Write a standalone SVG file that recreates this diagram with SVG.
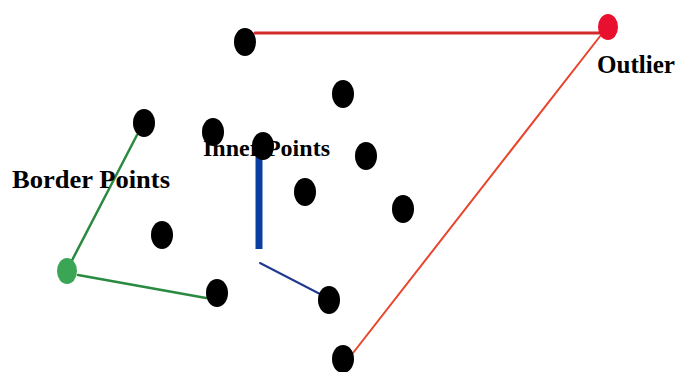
<svg xmlns="http://www.w3.org/2000/svg" width="680" height="372" viewBox="0 0 680 372">
<style>
.pt{fill:#000}
.lbl{font-family:"Liberation Serif","Times New Roman",serif;font-weight:bold;fill:#000}
.ln{fill:none;stroke-linecap:round}
</style>
<rect width="680" height="372" fill="#fff"/>
<g id="connectors">
<line class="ln" x1="255" y1="33" x2="600" y2="33" stroke="#d42a2a" stroke-width="3"/>
<line class="ln" x1="601" y1="35" x2="353" y2="353" stroke="#e8452c" stroke-width="2"/>
<line class="ln" x1="137" y1="135" x2="67" y2="270" stroke="#2a8a40" stroke-width="2.5"/>
<line class="ln" x1="78" y1="275" x2="206" y2="298" stroke="#2a8a40" stroke-width="2.5"/>
<line x1="259" y1="156" x2="259" y2="249" stroke="#0a3fa0" stroke-width="7"/>
<line class="ln" x1="260" y1="263" x2="320" y2="294" stroke="#1f3a8f" stroke-width="2"/>
</g>
<g id="p1"><ellipse class="pt" cx="245" cy="42" rx="11" ry="14"/></g>
<g id="outlier"><ellipse cx="608" cy="27" rx="10" ry="13" fill="#e8102e"/></g>
<g id="p3"><ellipse class="pt" cx="343" cy="94" rx="11" ry="14"/></g>
<g id="p4"><ellipse class="pt" cx="144" cy="123" rx="11" ry="14"/></g>
<g id="p5"><ellipse class="pt" cx="213" cy="132" rx="11" ry="14"/></g>
<g id="p6"><ellipse class="pt" cx="263" cy="146" rx="11" ry="14"/></g>
<g id="p7"><ellipse class="pt" cx="366" cy="156" rx="11" ry="14"/></g>
<g id="p8"><ellipse class="pt" cx="305" cy="192" rx="11" ry="14"/></g>
<g id="p9"><ellipse class="pt" cx="403" cy="209" rx="11" ry="14"/></g>
<g id="p10"><ellipse class="pt" cx="162" cy="235" rx="11" ry="14"/></g>
<g id="border"><ellipse cx="67" cy="271" rx="10" ry="13" fill="#3aa655"/></g>
<g id="p12"><ellipse class="pt" cx="217" cy="293" rx="11" ry="14"/></g>
<g id="p13"><ellipse class="pt" cx="329" cy="300" rx="11" ry="14"/></g>
<g id="p14"><ellipse class="pt" cx="343" cy="359" rx="11" ry="14"/></g>
<g id="labels">
<text class="lbl" x="203" y="156" font-size="23" textLength="127" lengthAdjust="spacingAndGlyphs">Inner Points</text>
<text class="lbl" x="12" y="188" font-size="26" textLength="158" lengthAdjust="spacingAndGlyphs">Border Points</text>
<text class="lbl" x="597" y="73" font-size="26" textLength="78" lengthAdjust="spacingAndGlyphs">Outlier</text>
</g>
</svg>
